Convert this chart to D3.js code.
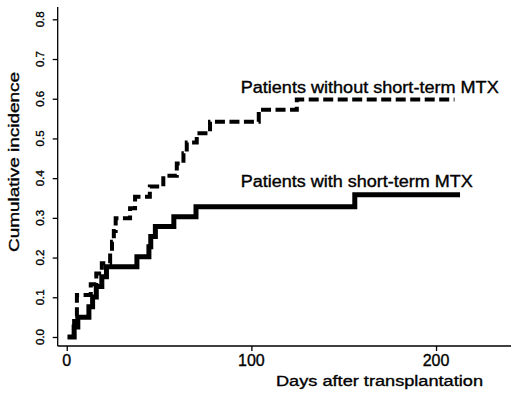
<!DOCTYPE html>
<html>
<head>
<meta charset="utf-8">
<script src="https://cdn.jsdelivr.net/npm/d3@7"></script>
<style>
  body { margin: 0; background: #fff; }
  svg { display: block; font-family: "Liberation Sans", Arial, sans-serif; }
  .axis path, .axis line { stroke: #000; stroke-width: 1.3; }
  .lbl { fill: #000; stroke: #000; stroke-width: 0.35; }
</style>
</head>
<body>
<div id="chart"></div>
<script>
// ---------------------------------------------------------------------------
// Data
// ---------------------------------------------------------------------------
var daysWithMtx = [0.5, 4, 6, 12, 14, 16, 19, 21.5, 38, 44.5, 45.5, 48, 58, 70, 156, 213];
var incWithMtx  = [0, 0.025, 0.05, 0.076, 0.101, 0.127, 0.152, 0.177, 0.202, 0.227, 0.253, 0.278, 0.303, 0.328, 0.358, 0.358];

var daysWithoutMtx = [0.5, 4, 5.5, 13, 16, 19, 23.5, 24.5, 25.5, 26.5, 34.3, 37, 45, 52.3, 59.6, 63.2, 65, 70.4, 77.6, 104, 124.6, 210];
var incWithoutMtx  = [0, 0.053, 0.106, 0.133, 0.16, 0.186, 0.213, 0.24, 0.267, 0.299, 0.324, 0.353, 0.379, 0.406, 0.437, 0.463, 0.49, 0.513, 0.542, 0.572, 0.598, 0.598];

var xTicks = [0, 100, 200];
var yTicks = [0, 0.1, 0.2, 0.3, 0.4, 0.5, 0.6, 0.7, 0.8];

var seriesLabels = ["Patients without short-term MTX", "Patients with short-term MTX"];
var xTitle = "Days after transplantation";
var yTitle = "Cumulative incidence";

// ---------------------------------------------------------------------------
// Layout
// ---------------------------------------------------------------------------
var W = 520, H = 396;
var plot = {left: 57.7, right: 511, top: 7, bottom: 346};

var x = d3.scaleLinear()
    .domain([-4.9, 240.6])
    .range([plot.left, plot.right]);

var y = d3.scaleLinear()
    .domain([-0.0227, 0.831])
    .range([plot.bottom, plot.top]);

var svg = d3.select("#chart").append("svg")
    .attr("width", W)
    .attr("height", H);

svg.append("rect").attr("width", W).attr("height", H).attr("fill", "#fff");

// axes (L-shaped frame)
var yAxis = svg.append("g")
    .attr("class", "axis")
    .attr("transform", "translate(" + plot.left + ",0)")
    .call(d3.axisLeft(y).tickValues(yTicks).tickSize(5).tickSizeOuter(0).tickFormat(""));
yAxis.select(".domain").attr("d", "M0," + plot.top + "V" + plot.bottom);

var xAxis = svg.append("g")
    .attr("class", "axis")
    .attr("transform", "translate(0," + plot.bottom + ")")
    .call(d3.axisBottom(x).tickValues(xTicks).tickSize(5).tickSizeOuter(0).tickFormat(""));
xAxis.select(".domain").attr("d", "M" + plot.left + ",0H" + plot.right);

// tick labels
svg.selectAll(".ylab")
    .data(yTicks)
  .enter().append("text")
    .attr("class", "ylab lbl")
    .attr("transform", function(d) { return "translate(43.5," + y(d) + ") rotate(-90)"; })
    .attr("text-anchor", "middle")
    .attr("textLength", 16)
    .attr("lengthAdjust", "spacingAndGlyphs")
    .style("font-size", "11.5px")
    .text(function(d) { return d.toFixed(1); });

svg.selectAll(".xlab")
    .data(xTicks)
  .enter().append("text")
    .attr("class", "xlab lbl")
    .attr("x", function(d) { return x(d); })
    .attr("y", 365.5)
    .attr("text-anchor", "middle")
    .style("font-size", "16px")
    .text(function(d) { return d; });

// axis titles
svg.append("text")
    .attr("class", "lbl")
    .attr("transform", "translate(18.5,162) rotate(-90)")
    .attr("text-anchor", "middle")
    .attr("textLength", 180)
    .attr("lengthAdjust", "spacingAndGlyphs")
    .style("font-size", "15px")
    .text(yTitle);

svg.append("text")
    .attr("class", "lbl")
    .attr("x", 276)
    .attr("y", 386)
    .attr("textLength", 207)
    .attr("lengthAdjust", "spacingAndGlyphs")
    .style("font-size", "15.5px")
    .text(xTitle);

// curves
var line = d3.line()
    .x(function(d) { return x(d[0]); })
    .y(function(d) { return y(d[1]); })
    .curve(d3.curveStepAfter);

svg.append("path")
    .datum(d3.zip(daysWithoutMtx, incWithoutMtx))
    .attr("fill", "none")
    .attr("stroke", "#000")
    .attr("stroke-width", 4)
    .attr("stroke-dasharray", "10,4.5")
    .attr("d", line);

svg.append("path")
    .datum(d3.zip(daysWithMtx, incWithMtx))
    .attr("fill", "none")
    .attr("stroke", "#000")
    .attr("stroke-width", 5)
    .attr("d", line);

// curve labels
svg.append("text")
    .attr("class", "lbl")
    .attr("x", 240.7)
    .attr("y", 93.3)
    .attr("textLength", 258)
    .attr("lengthAdjust", "spacingAndGlyphs")
    .style("font-size", "16px")
    .text(seriesLabels[0]);

svg.append("text")
    .attr("class", "lbl")
    .attr("x", 240.7)
    .attr("y", 186.7)
    .attr("textLength", 232)
    .attr("lengthAdjust", "spacingAndGlyphs")
    .style("font-size", "16px")
    .text(seriesLabels[1]);
</script>
</body>
</html>
